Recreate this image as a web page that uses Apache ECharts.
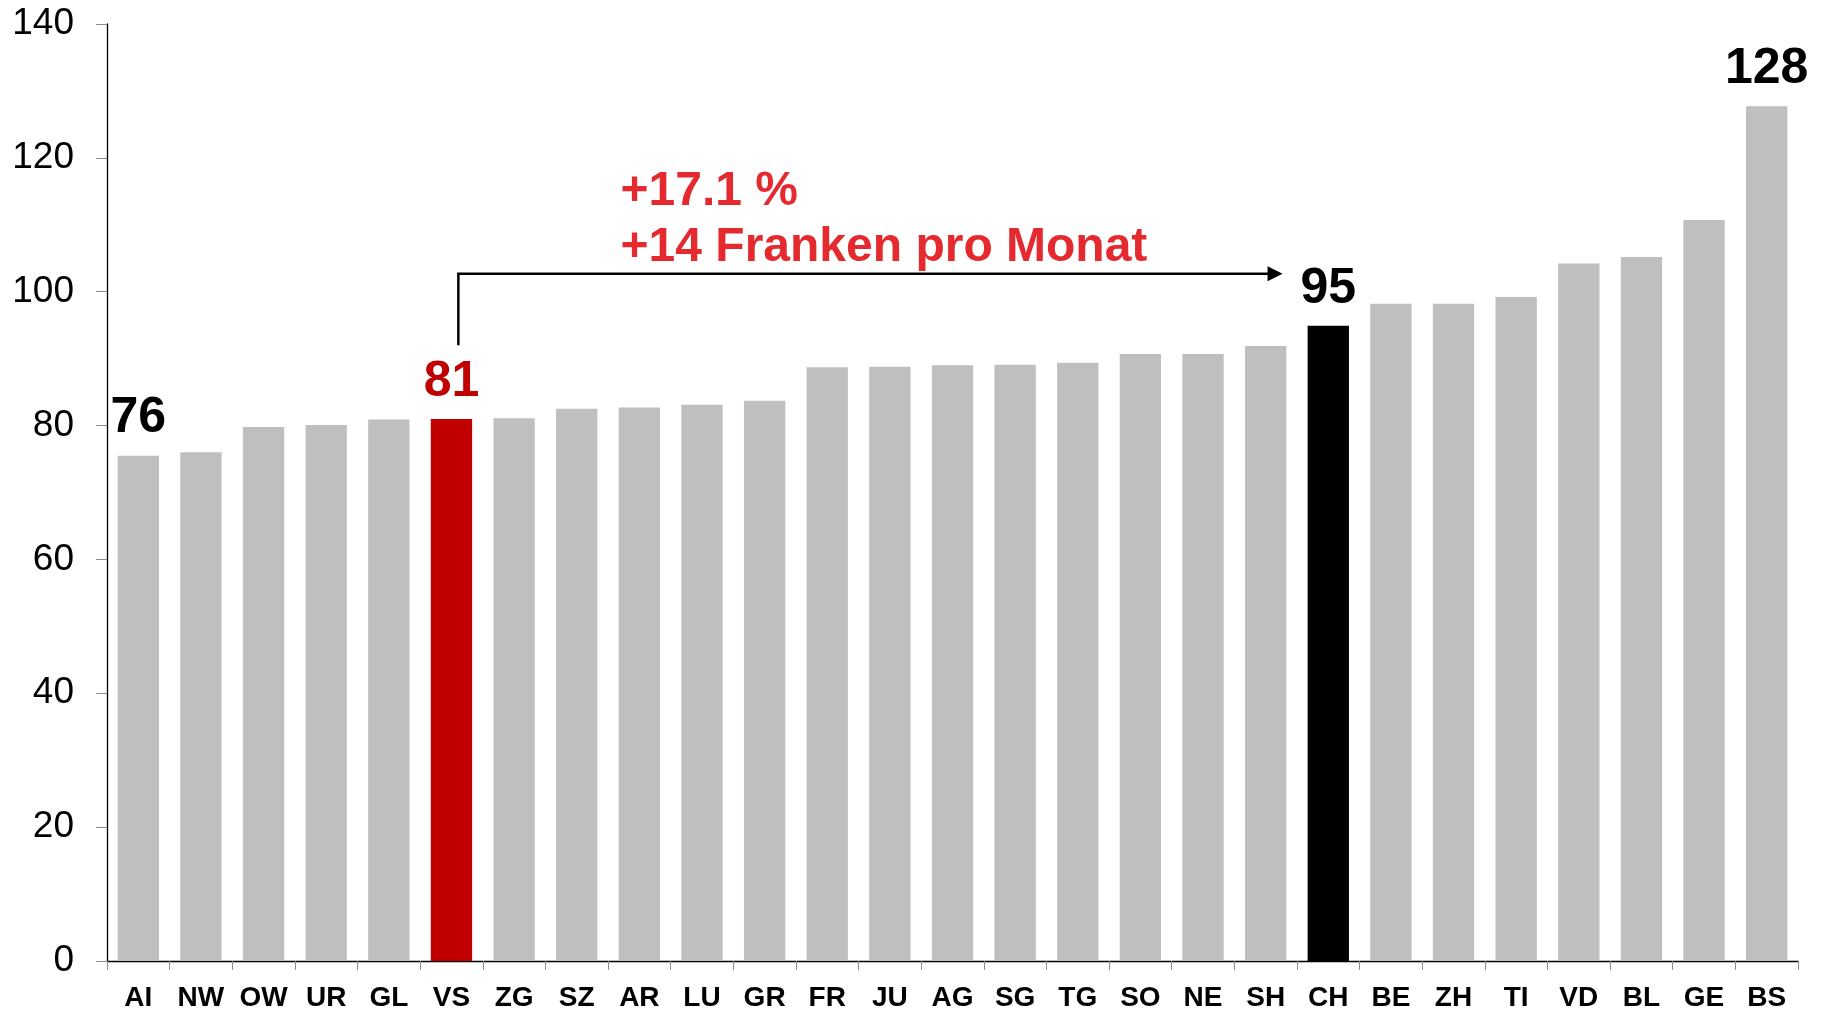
<!DOCTYPE html>
<html>
<head>
<meta charset="utf-8">
<script src="https://cdn.jsdelivr.net/npm/echarts@6/dist/echarts.min.js"></script>
<style>
	html, body { margin: 0; padding: 0; background: #fff; }
	#chart { width: 1823px; height: 1012px; }
</style>
</head>
<body>
<div id="chart"></div>
<script>
"use strict";

var cantons = ['AI', 'NW', 'OW', 'UR', 'GL', 'VS', 'ZG', 'SZ', 'AR', 'LU', 'GR', 'FR', 'JU', 'AG',
	'SG', 'TG', 'SO', 'NE', 'SH', 'CH', 'BE', 'ZH', 'TI', 'VD', 'BL', 'GE', 'BS'];
var premiums = [75.5, 76.0, 79.8, 80.1, 80.9, 81.0, 81.1, 82.5, 82.7, 83.1, 83.7, 88.7, 88.8, 89.0,
	89.1, 89.4, 90.7, 90.7, 91.9, 94.9, 98.2, 98.2, 99.2, 104.2, 105.2, 110.7, 127.7];
var labelled = ['AI', 'VS', 'CH', 'BS'];
var highlight = { VS: '#C00000', CH: '#000000' };
var noteLines = ['+17.1 %', '+14 Franken pro Monat'];

var font = "'Liberation Sans', Arial, sans-serif";
var grey = '#BFBFBF';
var noteRed = '#E52A2F';

var myChart = echarts.init(document.getElementById('chart'));

function buildData() {
	var data = [];
	for (var i = 0; i < cantons.length; i++) {
		var c = cantons[i];
		var item = {
			value: premiums[i],
			itemStyle: { color: highlight[c] || grey }
		};
		if (labelled.indexOf(c) >= 0) {
			item.label = {
				show: true,
				color: c === 'VS' ? '#C00000' : '#000000'
			};
		}
		data.push(item);
	}
	return data;
}

myChart.setOption({
	animation: false,
	backgroundColor: '#ffffff',
	grid: { left: 107, top: 24, right: 25, bottom: 50, containLabel: false },
	xAxis: {
		type: 'category',
		data: cantons,
		boundaryGap: true,
		axisLine: { lineStyle: { color: '#000000', width: 1.3 } },
		axisTick: { show: true, length: 9, lineStyle: { color: '#8C8C8C', width: 1 } },
		axisLabel: {
			interval: 0,
			margin: 23,
			color: '#000000',
			fontFamily: font,
			fontWeight: 'bold',
			fontSize: 28
		}
	},
	yAxis: {
		type: 'value',
		min: 0,
		max: 140,
		interval: 20,
		splitLine: { show: false },
		axisLine: { show: true, lineStyle: { color: '#000000', width: 1.3 } },
		axisTick: { show: true, length: 11, lineStyle: { color: '#8C8C8C', width: 1 } },
		axisLabel: {
			margin: 33,
			color: '#000000',
			fontFamily: font,
			fontSize: 37
		}
	},
	series: [{
		type: 'bar',
		barCategoryGap: '34%',
		data: buildData(),
		label: {
			show: false,
			position: 'top',
			distance: 12,
			fontFamily: font,
			fontWeight: 'bold',
			fontSize: 50,
			formatter: function(p) { return Math.round(p.value); }
		}
	}]
});

// arrow + note, placed from the chart's own scales
function px(cat, val) {
	return myChart.convertToPixel({ seriesIndex: 0 }, [cat, val]);
}

var band = px('NW', 0)[0] - px('AI', 0)[0];
var start = px('VS', 92);
var corner = px('VS', 102.7);
var tip = px('CH', 102.7);
var vx = start[0] + 0.11 * band;
var tipX = tip[0] - 0.73 * band;
var head = 15;

var noteX = px('AR', 0)[0] - 0.3 * band;

myChart.setOption({
	graphic: [
		{
			type: 'polyline',
			shape: { points: [[vx, start[1]], [vx, corner[1]], [tipX - head + 1, corner[1]]] },
			style: { stroke: '#000000', lineWidth: 2.5, fill: null }
		},
		{
			type: 'polygon',
			shape: { points: [[tipX, corner[1]], [tipX - head, corner[1] - 7.5], [tipX - head, corner[1] + 7.5]] },
			style: { fill: '#000000' }
		},
		{
			type: 'text',
			x: noteX,
			y: px('AR', 115.0)[1],
			style: {
				text: noteLines[0],
				fill: noteRed,
				font: 'bold 48px ' + font,
				verticalAlign: 'middle',
				align: 'left'
			}
		},
		{
			type: 'text',
			x: noteX,
			y: px('AR', 106.5)[1],
			style: {
				text: noteLines[1],
				fill: noteRed,
				font: 'bold 48px ' + font,
				verticalAlign: 'middle',
				align: 'left'
			}
		}
	]
});
</script>
</body>
</html>
